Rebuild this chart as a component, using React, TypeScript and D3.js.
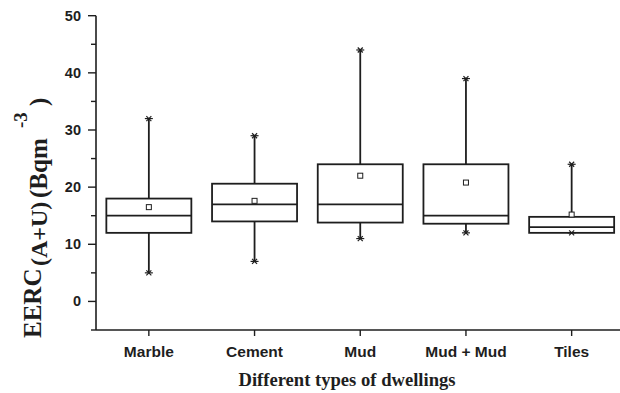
import React from "react";
import * as d3 from "d3";

const categories = ["Marble", "Cement", "Mud", "Mud + Mud", "Tiles"];
const whiskerHigh = [32, 29, 44, 39, 24];
const q3Values = [18, 20.6, 24, 24, 14.8];
const medians = [15, 17, 17, 15, 13];
const q1Values = [12, 14, 13.8, 13.6, 12];
const whiskerLow = [5, 7, 11, 12, 12];
const means = [16.5, 17.6, 22, 20.8, 15.2];
const yTicks = [0, 10, 20, 30, 40, 50];
const yMinorTicks = [-5, 5, 15, 25, 35, 45];

const W = 620;
const H = 393;
const axisX = 96;
const axisY = 330;
const ink = "#1e1e1e";
const serif = "Liberation Serif, Times New Roman, serif";
const sans = "Liberation Sans, Arial, sans-serif";

export default function App() {
  const y = d3.scaleLinear().domain([-5, 50]).range([330, 15.7]);
  const x = d3.scaleBand().domain(categories).range([96, 624.5]).paddingInner(0.19).paddingOuter(0.095);
  const bw = 85;
  const cx = (c: string) => (x(c) as number) + x.bandwidth() / 2;

  const marker = (px: number, py: number, key: string) => (
    <g key={key} stroke={ink} strokeWidth={1.2}>
      <line x1={px - 4} x2={px + 4} y1={py} y2={py} />
      <line x1={px - 2.5} x2={px + 2.5} y1={py - 2.5} y2={py + 2.5} />
      <line x1={px - 2.5} x2={px + 2.5} y1={py + 2.5} y2={py - 2.5} />
    </g>
  );

  // rotated y-title segments: [text, start (page y), baseline (page x), font size]
  const titleParts: [string, number, number, number][] = [
    ["EERC", 338, 41, 25],
    ["(A+U)", 266, 47, 24],
    ["(Bqm", 198, 47, 25],
    ["-3", 128, 27, 19],
    [")", 106, 47, 25],
  ];

  return (
    <svg width={W} height={H} style={{ position: "absolute", left: 0, top: 0, background: "#fff" }}>
      {/* axes */}
      <line x1={axisX} x2={axisX} y1={y(50)} y2={axisY} stroke={ink} strokeWidth={1.6} />
      <line x1={axisX} x2={W} y1={axisY} y2={axisY} stroke={ink} strokeWidth={1.6} />
      {yTicks.map((t) => (
        <g key={"t" + t}>
          <line x1={axisX - 8} x2={axisX} y1={y(t)} y2={y(t)} stroke={ink} strokeWidth={1.4} />
          <text x={81} y={y(t) + 5} textAnchor="end" fontFamily={sans} fontWeight="bold" fontSize={14.5} fill={ink}>
            {t}
          </text>
        </g>
      ))}
      {yMinorTicks.map((t) => (
        <line key={"m" + t} x1={axisX - 5} x2={axisX} y1={y(t)} y2={y(t)} stroke={ink} strokeWidth={1.4} />
      ))}
      {categories.map((c) => (
        <g key={"c" + c}>
          <line x1={cx(c)} x2={cx(c)} y1={axisY} y2={axisY + 6} stroke={ink} strokeWidth={1.4} />
          <text x={cx(c)} y={357} textAnchor="middle" fontFamily={sans} fontWeight="bold" fontSize={15.5} fill={ink}>
            {c}
          </text>
        </g>
      ))}

      {/* boxes */}
      {categories.map((c, i) => {
        const m = cx(c);
        return (
          <g key={"b" + c}>
            <line x1={m} x2={m} y1={y(q3Values[i])} y2={y(whiskerHigh[i])} stroke={ink} strokeWidth={1.8} />
            <line x1={m} x2={m} y1={y(q1Values[i])} y2={y(whiskerLow[i])} stroke={ink} strokeWidth={1.8} />
            <rect x={m - bw / 2} width={bw} y={y(q3Values[i])} height={y(q1Values[i]) - y(q3Values[i])} fill="#fff" stroke={ink} strokeWidth={1.8} />
            <line x1={m - bw / 2} x2={m + bw / 2} y1={y(medians[i])} y2={y(medians[i])} stroke={ink} strokeWidth={1.8} />
            <rect x={m - 2.5} y={y(means[i]) - 2.5} width={5} height={5} fill="#fff" stroke={ink} strokeWidth={1} />
            {marker(m, y(whiskerHigh[i]), "h")}
            {marker(m, y(whiskerLow[i]), "l")}
          </g>
        );
      })}

      {/* titles */}
      <text x={347} y={386} textAnchor="middle" fontFamily={serif} fontWeight="bold" fontSize={18.6} fill={ink}>
        Different types of dwellings
      </text>
      {titleParts.map(([t, start, base, fs]) => (
        <text key={t} transform={`translate(${base},${start}) rotate(-90)`} fontFamily={serif} fontWeight="bold" fontSize={fs} fill={ink}>
          {t}
        </text>
      ))}
    </svg>
  );
}
